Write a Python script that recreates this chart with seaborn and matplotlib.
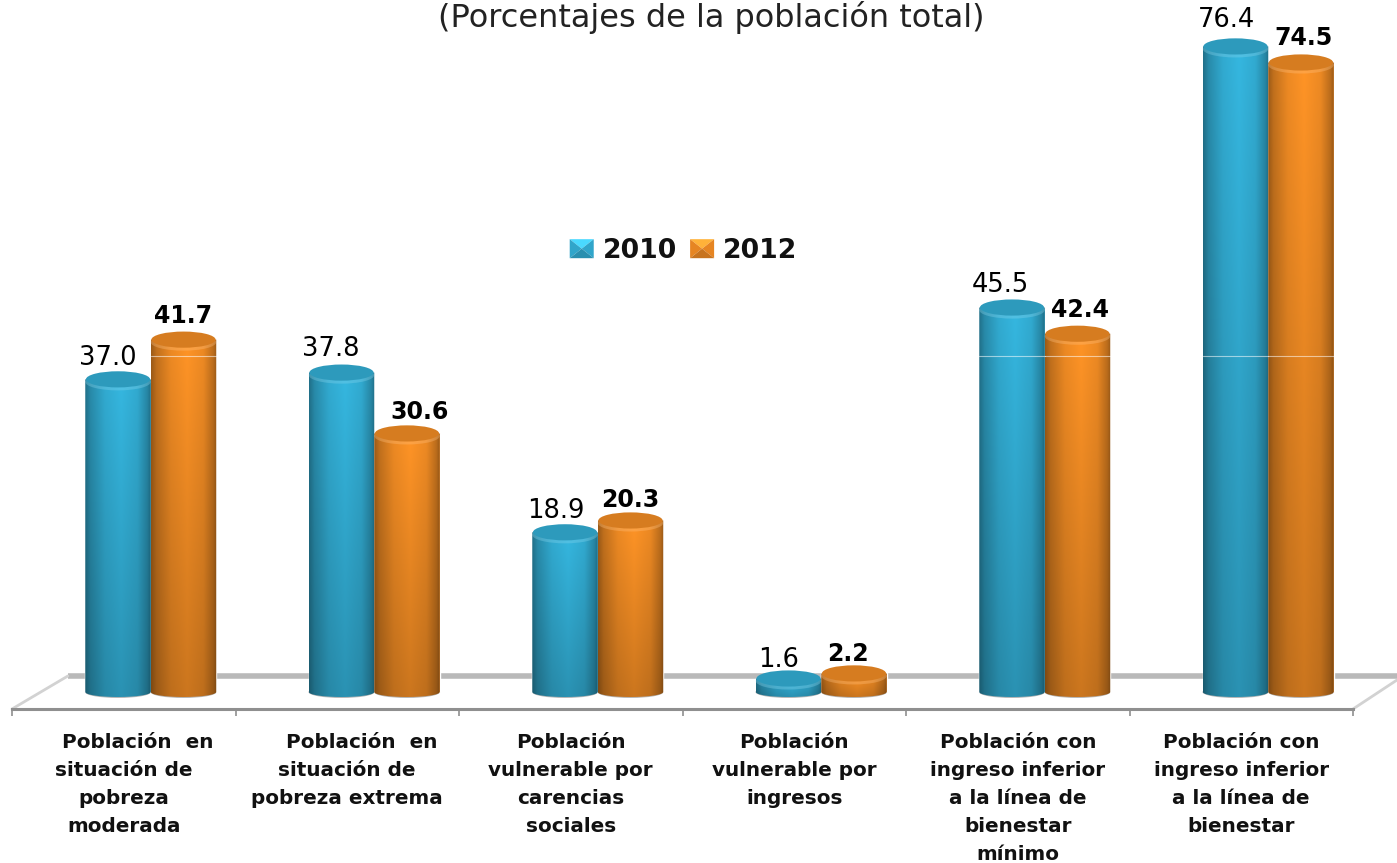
import numpy as np
import pandas as pd
import matplotlib
matplotlib.use("Agg")
import matplotlib.pyplot as plt
import matplotlib.patches as mpatches
from matplotlib.colors import to_rgb
from matplotlib.legend_handler import HandlerBase
from matplotlib.path import Path
from matplotlib.transforms import ScaledTranslation
import seaborn as sns

categories = [
    "    Población  en\nsituación de\npobreza\nmoderada",
    "    Población  en\nsituación de\npobreza extrema",
    "Población\nvulnerable por\ncarencias\nsociales",
    "Población\nvulnerable por\ningresos",
    "Población con\ningreso inferior\na la línea de\nbienestar\nmínimo",
    "Población con\ningreso inferior\na la línea de\nbienestar",
]
values_2010 = [37.0, 37.8, 18.9, 1.6, 45.5, 76.4]
values_2012 = [41.7, 30.6, 20.3, 2.2, 42.4, 74.5]
years = ["2010", "2012"]
colors = ["#35B7E0", "#FF9426"]

# little nudges of the value labels, in pixels
nudge_2010 = [-10, -11, -9, -10, -12, -9]
nudge_2012 = [0, 13, 0, -6, 3, 3]
lift_2010 = [21, 24, 21, 18, 23, 26]
lift_2012 = [24, 21, 20, 19, 24, 24]

sns.set_theme(style="white")
plt.rcParams['font.family'] = ['DejaVu Sans']

df = pd.DataFrame({
    "categoria": categories * 2,
    "valor": values_2010 + values_2012,
    "anio": [years[0]] * 6 + [years[1]] * 6,
})

fig = plt.figure(figsize=(13.97, 8.63), dpi=100)
ax = fig.add_axes([12 / 1397, 154 / 863, 1341 / 1397, 709 / 863])
ax.patch.set_alpha(0)

sns.barplot(data=df, x="categoria", y="valor", hue="anio", palette=colors,
            width=0.586, gap=0, saturation=1, ax=ax)

# the bars sit further back than the axis line, like the 3d floor
depth = ax.transData + ScaledTranslation(0.27, 0, fig.dpi_scale_trans)
px_per_unit = 8.45
cap_h = 8.5 / px_per_unit
rim_h = 5 / px_per_unit
seam = (692 - 356) / px_per_unit

profile_x = np.interp(np.linspace(0, 1, 64),
                      [0, 0.08, 0.3, 0.55, 0.8, 0.95, 1],
                      [0.62, 0.76, 0.93, 1.0, 0.93, 0.74, 0.62])
profile_y = np.linspace(1.0, 0.8, 64)

for container, color in zip(ax.containers, colors):
    rgb = np.array(to_rgb(color))
    shade = np.outer(profile_y, profile_x)[:, :, None] * rgb
    for bar in container:
        x0, w, h = bar.get_x(), bar.get_width(), bar.get_height()
        cx = x0 + w / 2
        bar.set_transform(depth)
        bar.set_clip_on(False)
        bar.set_zorder(2)

        # body with a rounded bottom
        t = np.linspace(0, np.pi, 40)
        xs = cx + w / 2 * np.cos(t)
        ys = -rim_h * np.sin(t)
        verts = np.column_stack([np.r_[x0, x0 + w, xs, x0], np.r_[h, h, ys, h]])
        outline = mpatches.PathPatch(Path(verts), transform=depth, fc="none", ec="none")
        ax.add_patch(outline)
        im = ax.imshow(shade, extent=(x0, x0 + w, -rim_h, h), aspect="auto",
                       transform=depth, zorder=3, interpolation="bilinear")
        im.set_clip_path(outline)

        # faint light seam the tall bars show
        if h > seam + cap_h:
            ax.plot([x0, x0 + w], [seam, seam], color="white", lw=0.8, alpha=0.55,
                    transform=depth, zorder=3.5, clip_on=False)

        # grey fringe under the bar
        ax.add_patch(mpatches.Ellipse((cx, 0), w * 1.01, rim_h * 2.4, transform=depth,
                                      fc="#b5b5b5", ec="none", zorder=1.5, clip_on=False))
        # lit rim and then the darker cap
        ax.add_patch(mpatches.Ellipse((cx, h - 0.3 * cap_h), w, cap_h * 2, transform=depth,
                                      fc=rgb * 0.6 + 0.4, ec="none", alpha=0.35, zorder=4, clip_on=False))
        ax.add_patch(mpatches.Ellipse((cx, h), w * 0.98, cap_h * 1.9, transform=depth,
                                      fc=rgb * 0.84, ec="none", zorder=5, clip_on=False))

ax.set_xlim(-0.5, 5.5)
ax.set_ylim(-17 / px_per_unit, 692 / px_per_unit)

# value labels
for container, vals, nudges, lifts, weight, size in zip(ax.containers, [values_2010, values_2012],
                                                        [nudge_2010, nudge_2012], [lift_2010, lift_2012],
                                                        ["normal", "bold"], [18.5, 17]):
    for bar, val, dx, dy in zip(container, vals, nudges, lifts):
        ax.annotate(f"{val:.1f}", xy=(bar.get_x() + bar.get_width() / 2, val), xycoords=depth,
                    xytext=(dx * 0.72, dy * 0.72), textcoords="offset points",
                    ha="center", va="center", fontsize=size, fontweight=weight,
                    color="black", zorder=6, annotation_clip=False)

# floor of the 3d box
back_y = 16 / px_per_unit
floor_color = "#b9b9b9"
ax.plot([-0.25, 5.5 + 44 / 223.5], [back_y, back_y], color=floor_color, lw=4,
        solid_capstyle="butt", clip_on=False, zorder=1)
ax.plot([-0.5, -0.25], [-17 / px_per_unit, back_y], color="#d2d2d2", lw=2, clip_on=False, zorder=1)
ax.plot([5.5, 5.5 + 44 / 223.5], [-17 / px_per_unit, 12 / px_per_unit], color="#d2d2d2", lw=2,
        clip_on=False, zorder=1)

sns.despine(ax=ax, left=True)
ax.spines["bottom"].set_color("#8f8f8f")
ax.spines["bottom"].set_linewidth(2.2)
ax.set_xlabel("")
ax.set_ylabel("")
ax.set_yticks([])
ax.set_xticks(np.arange(-0.5, 6), minor=True)
ax.tick_params(axis="x", which="major", length=0, pad=17, labelsize=14.4)
ax.tick_params(axis="x", which="minor", length=5, width=1.2, color="#8f8f8f", bottom=True)
for lbl in ax.get_xticklabels():
    lbl.set_fontweight("bold")
    lbl.set_linespacing(1.61)
    lbl.set_color("#111111")


class PillowHandler(HandlerBase):
    # legend key with the bevelled look of the bars
    def create_artists(self, legend, orig_handle, xdescent, ydescent, width, height, fontsize, trans):
        rgb = np.array(to_rgb(orig_handle.get_facecolor()))
        x0, y0 = -xdescent, -ydescent
        x1, y1 = x0 + width, y0 + height
        mid = ((x0 + x1) / 2, (y0 + y1) / 2)
        faces = [
            ([(x0, y1), (x1, y1), mid], np.clip(rgb * 1.1 + 0.06, 0, 1)),
            ([(x0, y0), (x0, y1), mid], rgb * 0.9),
            ([(x1, y0), (x1, y1), mid], rgb * 0.9),
            ([(x0, y0), (x1, y0), mid], rgb * 0.78),
        ]
        return [mpatches.Polygon(p, closed=True, fc=c, ec="none", transform=trans) for p, c in faces]


handles, labels = ax.get_legend_handles_labels()
leg = ax.legend(handles, labels, handler_map={mpatches.Rectangle: PillowHandler()},
                ncol=2, frameon=False, loc="center", bbox_to_anchor=(683.5 / 1397, 1 - 251 / 863),
                bbox_transform=fig.transFigure, prop={"size": 19.2, "weight": "bold"},
                handlelength=0.9, handleheight=0.72, handletextpad=0.33, columnspacing=0.5,
                labelcolor="#111111")

fig.text(711 / 1397, 1 - 18 / 863, "(Porcentajes de la población total)",
         ha="center", va="center", fontsize=23, color="#222222")

fig.savefig("out.png", dpi=100)
